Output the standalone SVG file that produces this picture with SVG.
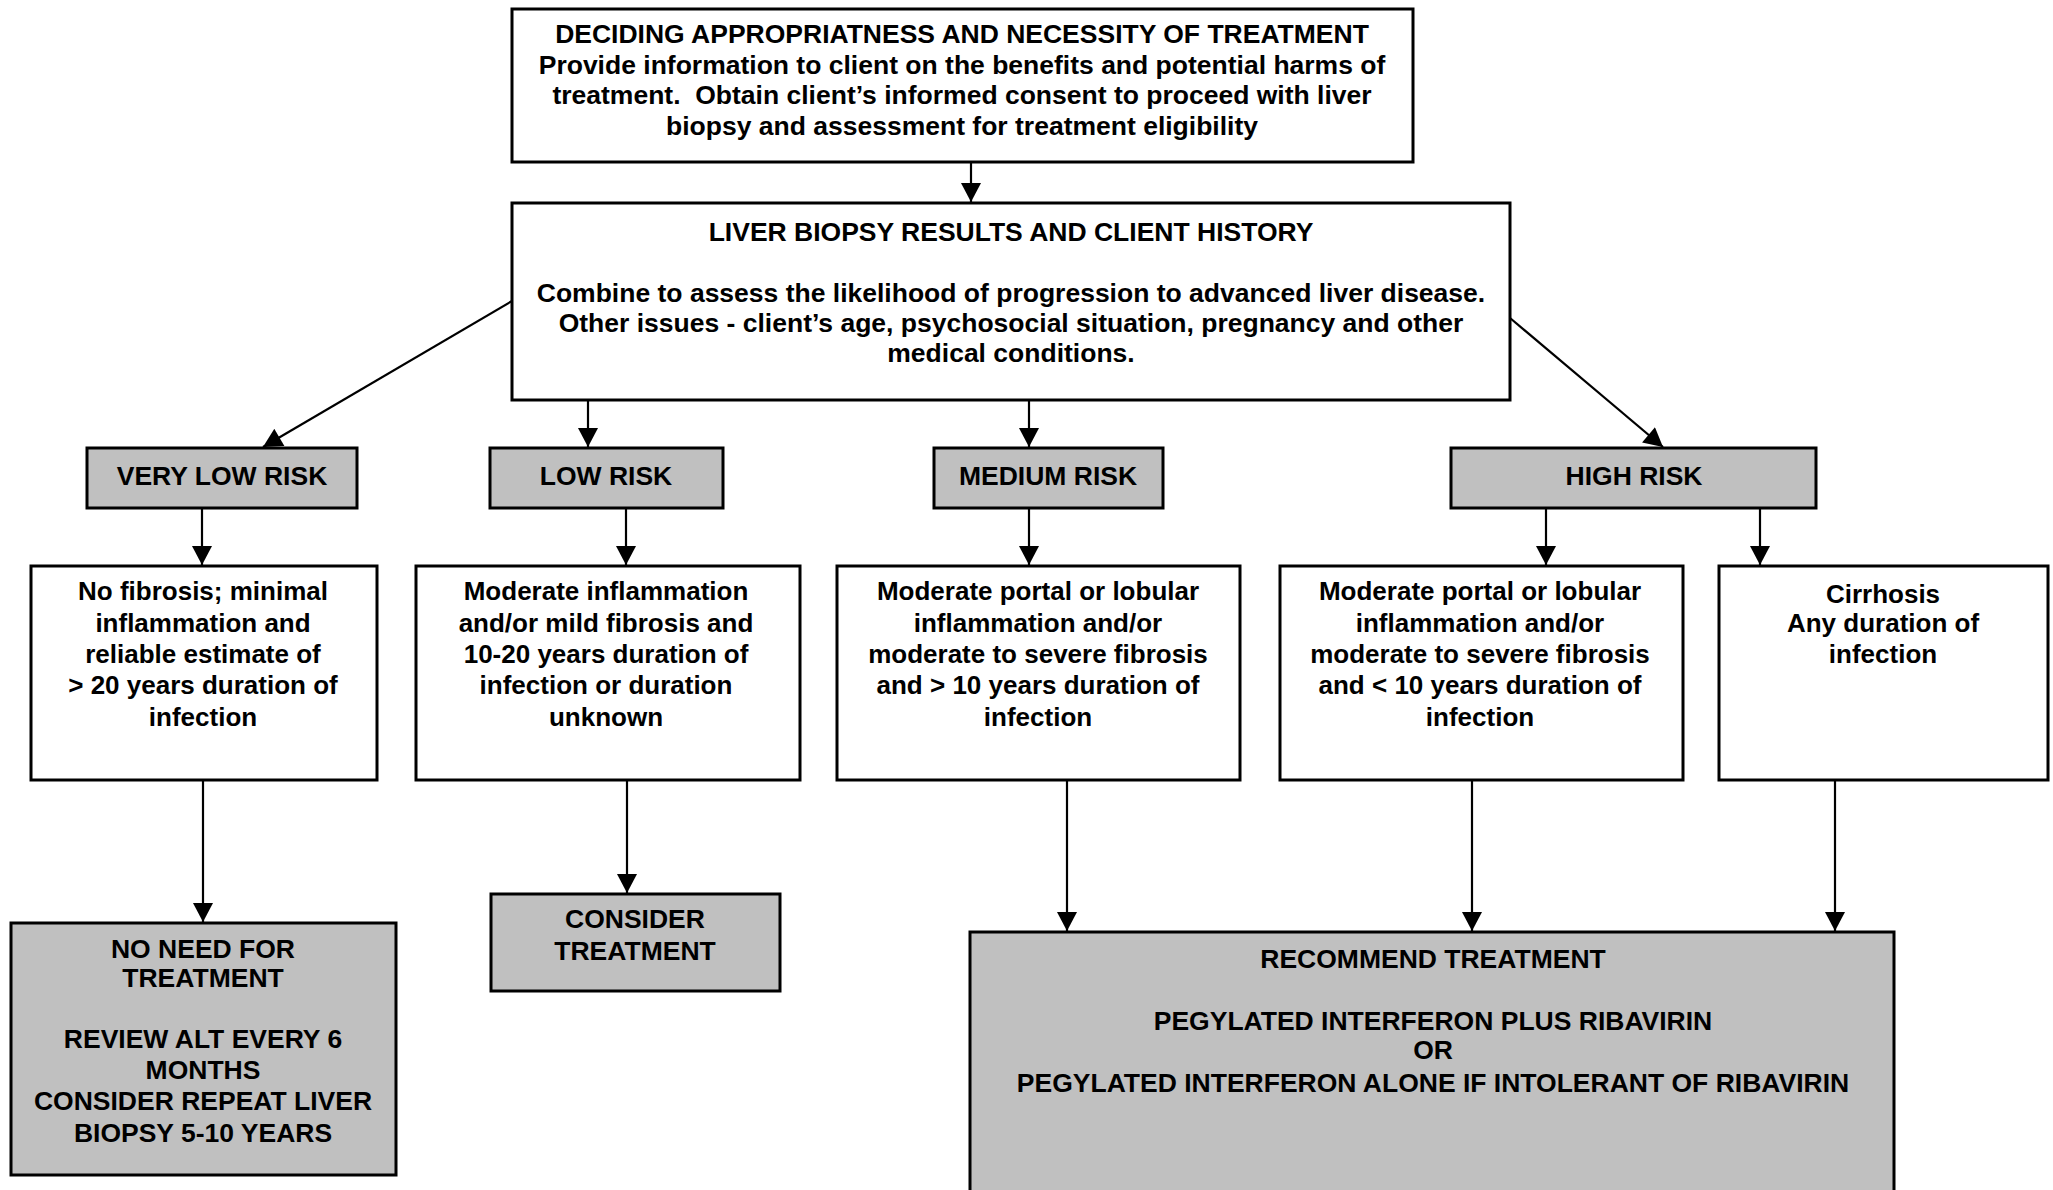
<svg xmlns="http://www.w3.org/2000/svg" width="2053" height="1190" viewBox="0 0 2053 1190">
<defs>
<style>
.box{fill:#fff;stroke:#000;stroke-width:3}
.gbox{fill:#c0c0c0;stroke:#000;stroke-width:3}
text{font-family:"Liberation Sans",Arial,sans-serif;font-weight:bold;font-size:26.5px;text-anchor:middle;fill:#000}
.d{font-size:26px}
.c line{stroke:#000;stroke-width:2.2;marker-end:url(#ah)}
</style>
<marker id="ah" markerUnits="userSpaceOnUse" markerWidth="20" markerHeight="20" refX="18" refY="9.5" orient="auto" viewBox="0 0 18 19">
<path d="M0,0 L18,9.5 L0,19 z" fill="#000"/>
</marker>
</defs>
<rect width="2053" height="1190" fill="#fff"/>
<g id="top">
<rect class="box" x="512" y="9" width="901" height="153"/>
<text x="962" y="43">DECIDING APPROPRIATNESS AND NECESSITY OF TREATMENT</text>
<text x="962" y="74">Provide information to client on the benefits and potential harms of</text>
<text x="962" y="104">treatment.&#160; Obtain client’s informed consent to proceed with liver</text>
<text x="962" y="135">biopsy and assessment for treatment eligibility</text>
</g>
<g id="biopsy">
<rect class="box" x="512" y="203" width="998" height="197"/>
<text x="1011" y="241">LIVER BIOPSY RESULTS AND CLIENT HISTORY</text>
<text x="1011" y="302">Combine to assess the likelihood of progression to advanced liver disease.</text>
<text x="1011" y="332">Other issues - client’s age, psychosocial situation, pregnancy and other</text>
<text x="1011" y="362">medical conditions.</text>
</g>
<g id="very-low-risk">
<rect class="gbox" x="87" y="448" width="270" height="60"/>
<text x="222" y="485">VERY LOW RISK</text>
</g>
<g id="low-risk">
<rect class="gbox" x="490" y="448" width="233" height="60"/>
<text x="606" y="485">LOW RISK</text>
</g>
<g id="medium-risk">
<rect class="gbox" x="934" y="448" width="229" height="60"/>
<text x="1048" y="485">MEDIUM RISK</text>
</g>
<g id="high-risk">
<rect class="gbox" x="1451" y="448" width="365" height="60"/>
<text x="1634" y="485">HIGH RISK</text>
</g>
<g id="detail-very-low">
<rect class="box" x="31" y="566" width="346" height="214"/>
<text class="d" x="203" y="600">No fibrosis; minimal</text>
<text class="d" x="203" y="631.5">inflammation and</text>
<text class="d" x="203" y="663">reliable estimate of</text>
<text class="d" x="203" y="694">&gt; 20 years duration of</text>
<text class="d" x="203" y="726">infection</text>
</g>
<g id="detail-low">
<rect class="box" x="416" y="566" width="384" height="214"/>
<text class="d" x="606" y="600">Moderate inflammation</text>
<text class="d" x="606" y="631.5">and/or mild fibrosis and</text>
<text class="d" x="606" y="663">10-20 years duration of</text>
<text class="d" x="606" y="694">infection or duration</text>
<text class="d" x="606" y="726">unknown</text>
</g>
<g id="detail-medium">
<rect class="box" x="837" y="566" width="403" height="214"/>
<text class="d" x="1038" y="600">Moderate portal or lobular</text>
<text class="d" x="1038" y="631.5">inflammation and/or</text>
<text class="d" x="1038" y="663">moderate to severe fibrosis</text>
<text class="d" x="1038" y="694">and &gt; 10 years duration of</text>
<text class="d" x="1038" y="726">infection</text>
</g>
<g id="detail-high">
<rect class="box" x="1280" y="566" width="403" height="214"/>
<text class="d" x="1480" y="600">Moderate portal or lobular</text>
<text class="d" x="1480" y="631.5">inflammation and/or</text>
<text class="d" x="1480" y="663">moderate to severe fibrosis</text>
<text class="d" x="1480" y="694">and &lt; 10 years duration of</text>
<text class="d" x="1480" y="726">infection</text>
</g>
<g id="detail-cirrhosis">
<rect class="box" x="1719" y="566" width="329" height="214"/>
<text class="d" x="1883" y="603">Cirrhosis</text>
<text class="d" x="1883" y="632">Any duration of</text>
<text class="d" x="1883" y="663">infection</text>
</g>
<g id="no-need">
<rect class="gbox" x="11" y="923" width="385" height="252"/>
<text x="203" y="958">NO NEED FOR</text>
<text x="203" y="987">TREATMENT</text>
<text x="203" y="1048">REVIEW ALT EVERY 6</text>
<text x="203" y="1079">MONTHS</text>
<text x="203" y="1110">CONSIDER REPEAT LIVER</text>
<text x="203" y="1142">BIOPSY 5-10 YEARS</text>
</g>
<g id="consider">
<rect class="gbox" x="491" y="894" width="289" height="97"/>
<text x="635" y="928">CONSIDER</text>
<text x="635" y="960">TREATMENT</text>
</g>
<g id="recommend">
<rect class="gbox" x="970" y="932" width="924" height="280"/>
<text x="1433" y="968">RECOMMEND TREATMENT</text>
<text x="1433" y="1030">PEGYLATED INTERFERON PLUS RIBAVIRIN</text>
<text x="1433" y="1059">OR</text>
<text x="1433" y="1092">PEGYLATED INTERFERON ALONE IF INTOLERANT OF RIBAVIRIN</text>
</g>
<g id="connectors" class="c">
<line x1="971" y1="162" x2="971" y2="202"/>
<line x1="512" y1="301" x2="263" y2="447"/>
<line x1="588" y1="400" x2="588" y2="447"/>
<line x1="1029" y1="400" x2="1029" y2="447"/>
<line x1="1510" y1="318" x2="1663" y2="447"/>
<line x1="202" y1="508" x2="202" y2="565"/>
<line x1="626" y1="508" x2="626" y2="565"/>
<line x1="1029" y1="508" x2="1029" y2="565"/>
<line x1="1546" y1="508" x2="1546" y2="565"/>
<line x1="1760" y1="508" x2="1760" y2="565"/>
<line x1="203" y1="780" x2="203" y2="922"/>
<line x1="627" y1="780" x2="627" y2="893"/>
<line x1="1067" y1="780" x2="1067" y2="931"/>
<line x1="1472" y1="780" x2="1472" y2="931"/>
<line x1="1835" y1="780" x2="1835" y2="931"/>
</g>
</svg>
